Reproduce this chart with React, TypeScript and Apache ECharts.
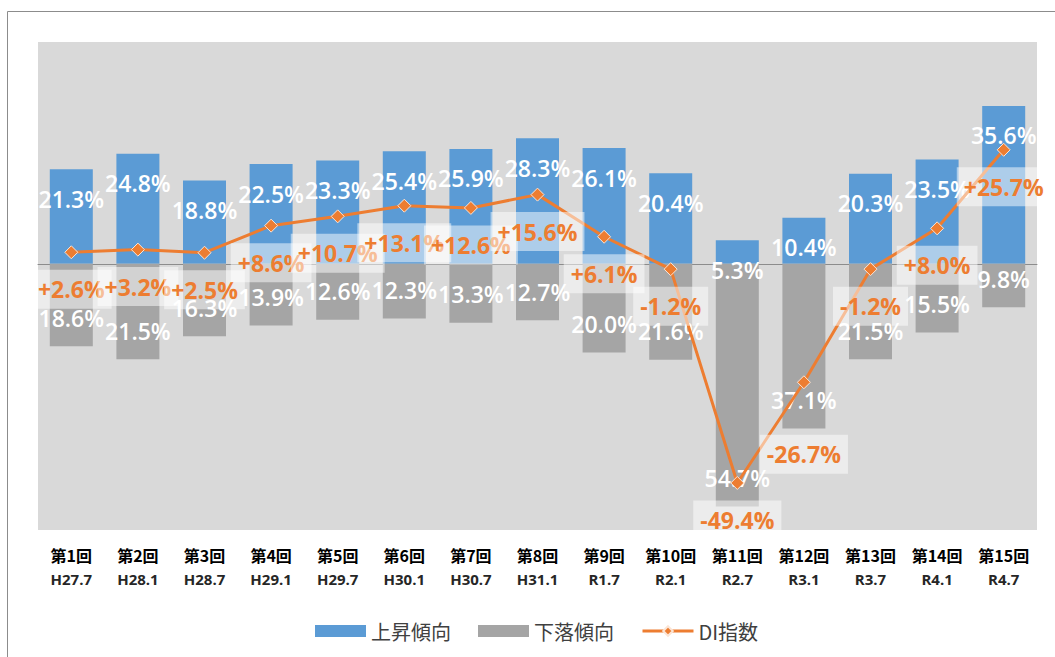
import React, { useEffect, useRef } from "react";
import * as echarts from "echarts";

const categories = ["第1回", "第2回", "第3回", "第4回", "第5回", "第6回", "第7回", "第8回", "第9回", "第10回", "第11回", "第12回", "第13回", "第14回", "第15回"];
const periods = ["H27.7", "H28.1", "H28.7", "H29.1", "H29.7", "H30.1", "H30.7", "H31.1", "R1.7", "R2.1", "R2.7", "R3.1", "R3.7", "R4.1", "R4.7"];
const upValues = [21.3, 24.8, 18.8, 22.5, 23.3, 25.4, 25.9, 28.3, 26.1, 20.4, 5.3, 10.4, 20.3, 23.5, 35.6];
const downValues = [18.6, 21.5, 16.3, 13.9, 12.6, 12.3, 13.3, 12.7, 20.0, 21.6, 54.7, 37.1, 21.5, 15.5, 9.8];
const diValues = [2.6, 3.2, 2.5, 8.6, 10.7, 13.1, 12.6, 15.6, 6.1, -1.2, -49.4, -26.7, -1.2, 8.0, 25.7];

const FONT = "'Open Sans', 'Noto Sans CJK JP', sans-serif";
const CJK = "'Noto Sans CJK JP', sans-serif";

export default function App() {
  const ref = useRef<HTMLDivElement>(null);
  useEffect(() => {
    if (!ref.current) return;
    const chart = echarts.init(ref.current, undefined, { renderer: "svg" });
    const fmtSigned = (v: number) => (v > 0 ? "+" : "") + v.toFixed(1) + "%";
    chart.setOption({
      animation: false,
      backgroundColor: "#ffffff",
      textStyle: { fontFamily: FONT },
      graphic: [
        {
          type: "rect",
          shape: { x: 7.5, y: 11.5, width: 1100, height: 700 },
          style: { fill: "none", stroke: "#8c8c8c", lineWidth: 1 },
          silent: true,
          z: -1,
        },
      ],
      grid: {
        left: 38,
        right: 18,
        top: 42,
        bottom: 127,
        show: true,
        backgroundColor: "#d9d9d9",
        borderWidth: 0,
      },
      legend: {
        left: 310,
        top: 616,
        itemWidth: 51,
        itemHeight: 12,
        itemGap: 27,
        textStyle: { fontSize: 20, color: "#404040", fontFamily: CJK },
        data: [
          { name: "上昇傾向", icon: "rect" },
          { name: "下落傾向", icon: "rect" },
          { name: "DI指数", lineStyle: { width: 3, color: "#ed7d31" } },
        ],
      },
      xAxis: {
        type: "category",
        data: categories,
        axisLine: { onZero: true, lineStyle: { color: "#8c8c8c", width: 1 } },
        axisTick: { show: false },
        axisLabel: {
          margin: 12,
          interval: 0,
          formatter: (v: string, i: number) => `{a|${v}}\n{b|${periods[i]}}`,
          rich: {
            a: { fontSize: 16, fontWeight: "bold", color: "#000000", lineHeight: 25, fontFamily: CJK },
            b: { fontSize: 15, fontWeight: "bold", color: "#262626", lineHeight: 24, fontFamily: FONT },
          },
        },
      },
      yAxis: {
        type: "value",
        min: -60,
        max: 50,
        show: false,
        splitLine: { show: false },
      },
      series: [
        {
          name: "上昇傾向",
          type: "bar",
          stack: "t",
          barWidth: 43,
          data: upValues,
          itemStyle: { color: "#5b9bd5" },
          label: {
            show: true,
            position: "insideTop",
            offset: [0, 13],
            formatter: (p: any) => p.value.toFixed(1) + "%",
            color: "#ffffff",
            fontSize: 23,
            fontWeight: 600,
            fontFamily: FONT,
          },
          z: 2,
        },
        {
          name: "下落傾向",
          type: "bar",
          stack: "t",
          barWidth: 43,
          data: downValues.map((v) => -v),
          itemStyle: { color: "#a5a5a5" },
          label: {
            show: true,
            position: "insideBottom",
            offset: [0, -12],
            formatter: (p: any) => (-p.value).toFixed(1) + "%",
            color: "#ffffff",
            fontSize: 23,
            fontWeight: 600,
            fontFamily: FONT,
          },
          z: 2,
        },
        {
          name: "DI指数",
          type: "line",
          data: diValues.map((v, i) => ({
            value: v,
            label: { offset: [0, i === 11 ? 72 : 37] },
          })),
          itemStyle: { color: "#ed7d31", borderColor: "#fbe5d6", borderWidth: 1 },
          lineStyle: { color: "#ed7d31", width: 3 },
          symbol: "diamond",
          symbolSize: 13,
          label: {
            show: true,
            position: "inside",
            formatter: (p: any) => fmtSigned(p.value),
            color: "#ed7d31",
            fontWeight: "bold",
            fontSize: 23,
            fontFamily: FONT,
            backgroundColor: "rgba(255,255,255,0.5)",
            padding: [8, 7, 8, 7],
          },
          z: 5,
        },
      ],
    });
    return () => chart.dispose();
  }, []);
  return (
    <div
      ref={ref}
      style={{ position: "fixed", left: 0, top: 0, width: 1055, height: 657 }}
    />
  );
}
